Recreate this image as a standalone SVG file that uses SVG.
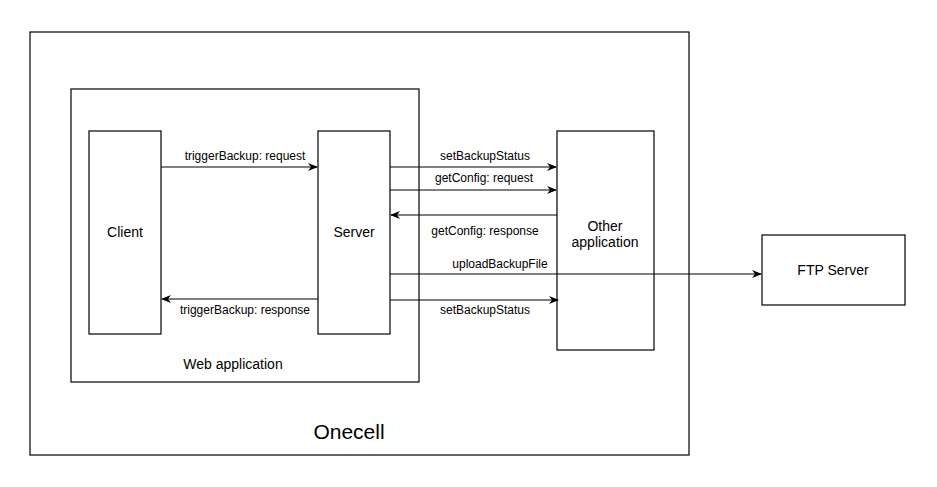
<svg xmlns="http://www.w3.org/2000/svg" width="937" height="487" viewBox="0 0 937 487">
<style>
.box{fill:#fff;stroke:#000;stroke-width:1.2}
.ln{fill:none;stroke:#000;stroke-width:1.2}
text{font-family:"Liberation Sans",Arial,sans-serif;fill:#000}
.lbl{font-size:12px;text-anchor:middle}
.nm{font-size:14px;text-anchor:middle}
</style>
<defs>
<marker id="ah" viewBox="0 0 10 10" refX="9" refY="5" markerWidth="10" markerHeight="10" markerUnits="userSpaceOnUse" orient="auto">
<path d="M0,1 L10,5 L0,9 L3,5 Z" fill="#000"/>
</marker>
</defs>
<rect width="937" height="487" fill="#fff"/>
<g id="onecell">
<rect class="box" x="30" y="32" width="659" height="423"/>
<text x="349" y="439" font-size="21" text-anchor="middle">Onecell</text>
</g>
<g id="webapp">
<rect class="box" x="71" y="89" width="348" height="293"/>
<text class="nm" x="233" y="369">Web application</text>
</g>
<g id="client">
<rect class="box" x="89" y="131" width="72" height="203"/>
<text class="nm" x="125" y="237">Client</text>
</g>
<g id="server">
<rect class="box" x="318" y="131" width="72" height="203"/>
<text class="nm" x="354" y="237">Server</text>
</g>
<g id="other">
<rect class="box" x="557" y="131" width="97" height="219"/>
<text class="nm" x="605" y="231">Other</text>
<text class="nm" x="605" y="247">application</text>
</g>
<g id="ftp">
<rect class="box" x="762" y="235" width="143" height="70"/>
<text class="nm" x="833" y="275">FTP Server</text>
</g>
<g id="connectors">
<line class="ln" x1="161" y1="167" x2="317" y2="167" marker-end="url(#ah)"/>
<text class="lbl" x="245" y="160">triggerBackup: request</text>
<line class="ln" x1="390" y1="167" x2="556" y2="167" marker-end="url(#ah)"/>
<text class="lbl" x="485" y="160">setBackupStatus</text>
<line class="ln" x1="390" y1="190" x2="556" y2="190" marker-end="url(#ah)"/>
<text class="lbl" x="484" y="182">getConfig: request</text>
<line class="ln" x1="557" y1="215" x2="391" y2="215" marker-end="url(#ah)"/>
<text class="lbl" x="485" y="235">getConfig: response</text>
<line class="ln" x1="390" y1="274" x2="761" y2="274" marker-end="url(#ah)"/>
<text class="lbl" x="500" y="268">uploadBackupFile</text>
<line class="ln" x1="318" y1="299" x2="162" y2="299" marker-end="url(#ah)"/>
<text class="lbl" x="245" y="314">triggerBackup: response</text>
<line class="ln" x1="390" y1="300" x2="558" y2="300" marker-end="url(#ah)"/>
<text class="lbl" x="485" y="314">setBackupStatus</text>
</g>
</svg>
